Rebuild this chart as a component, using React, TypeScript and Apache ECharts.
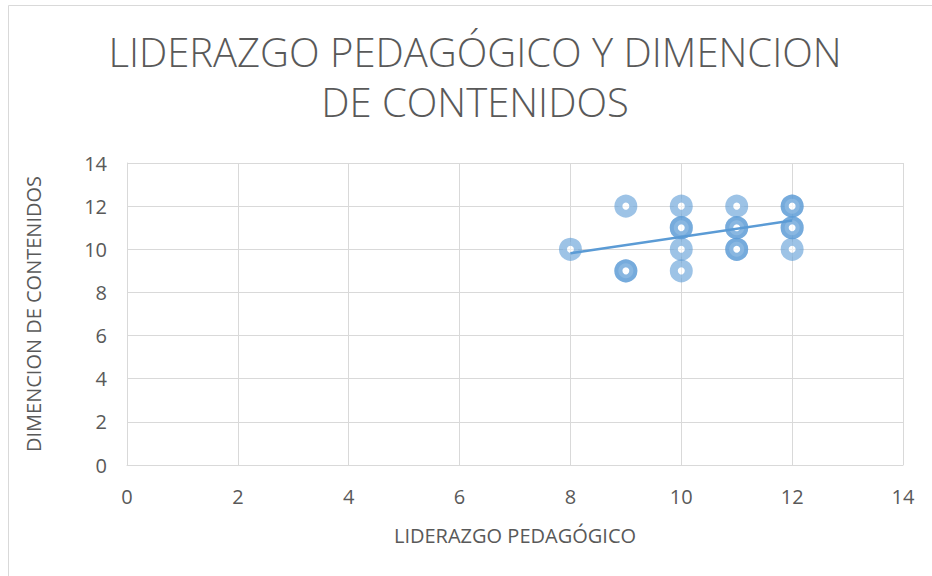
import React, { useEffect, useRef } from "react";
import * as echarts from "echarts";

const liderazgo = [8, 9, 9, 9, 10, 10, 10, 10, 10, 11, 11, 11, 11, 11, 12, 12, 12, 12, 12];
const dimension = [10, 12, 9, 9, 12, 11, 11, 10, 9, 12, 11, 11, 10, 10, 12, 12, 11, 11, 10];
const trendX = [8, 12];
const trendY = [9.82, 11.33];
const axisTicks = [0, 2, 4, 6, 8, 10, 12, 14];

const titleText = "LIDERAZGO PEDAGÓGICO Y DIMENCION\nDE CONTENIDOS";
const xName = "LIDERAZGO PEDAGÓGICO";
const yName = "DIMENCION DE CONTENIDOS";

export default function App() {
  const ref = useRef<HTMLDivElement>(null);
  useEffect(() => {
    document.body.style.margin = "0";
    if (!ref.current) return;
    const chart = echarts.init(ref.current, undefined, { renderer: "svg" });
    const font = "'Open Sans', sans-serif";
    chart.setOption({
      animation: false,
      backgroundColor: "#ffffff",
      graphic: [
        {
          type: "rect",
          shape: { x: 8.5, y: 5.5, width: 940, height: 600 },
          style: { fill: "none", stroke: "#d9d9d9", lineWidth: 1 },
          silent: true,
        },
        {
          type: "text",
          x: 475,
          y: 26,
          silent: true,
          style: {
            text: titleText,
            align: "center",
            verticalAlign: "top",
            fontFamily: font,
            fontWeight: 300,
            fontSize: 40,
            lineHeight: 50,
            fill: "#595959",
          },
        },
      ],
      grid: { left: 127, right: 29, top: 163, bottom: 111 },
      xAxis: {
        type: "value",
        min: axisTicks[0],
        max: axisTicks[axisTicks.length - 1],
        interval: 2,
        name: xName,
        nameLocation: "middle",
        nameGap: 60,
        nameTextStyle: { fontFamily: font, fontSize: 20, color: "#595959" },
        axisLine: { show: true, lineStyle: { color: "#d9d9d9" } },
        axisTick: { show: false },
        axisLabel: { fontFamily: font, fontSize: 20, color: "#595959", margin: 21 },
        splitLine: { show: true, lineStyle: { color: "#d9d9d9" } },
      },
      yAxis: {
        type: "value",
        min: axisTicks[0],
        max: axisTicks[axisTicks.length - 1],
        interval: 2,
        name: yName,
        nameLocation: "middle",
        nameGap: 84,
        nameTextStyle: { fontFamily: font, fontSize: 20, color: "#595959" },
        axisLine: { show: true, lineStyle: { color: "#d9d9d9" } },
        axisTick: { show: false },
        axisLabel: { fontFamily: font, fontSize: 20, color: "#595959", margin: 20 },
        splitLine: { show: true, lineStyle: { color: "#d9d9d9" } },
      },
      series: [
        {
          type: "scatter",
          data: liderazgo.map((x, i) => [x, dimension[i]]),
          symbol: "circle",
          symbolSize: 15,
          itemStyle: {
            color: "rgba(255,255,255,0.5)",
            borderColor: "rgba(91,155,213,0.6)",
            borderWidth: 8,
            opacity: 1,
          },
          z: 2,
        },
        {
          type: "line",
          data: trendX.map((x, i) => [x, trendY[i]]),
          symbol: "none",
          lineStyle: { color: "#5b9bd5", width: 2.5 },
          z: 3,
        },
      ],
    });
    return () => chart.dispose();
  }, []);
  return <div ref={ref} style={{ width: 932, height: 576 }} />;
}
